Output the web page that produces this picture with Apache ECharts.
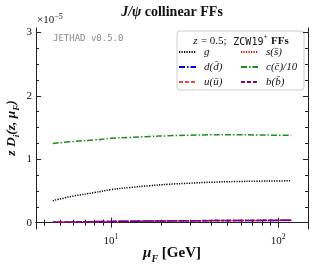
<!DOCTYPE html>
<html><head><meta charset="utf-8">
<script src="https://cdn.jsdelivr.net/npm/echarts@6/dist/echarts.min.js"></script>
<style>html,body{margin:0;padding:0;background:#fff}#c{width:314px;height:264px}</style>
</head><body><div id="c"></div>
<script>
const mu = [4.5, 6, 8, 10, 13, 17, 22, 30, 40, 55, 75, 100, 120];
const gVals = [0.347, 0.42, 0.475, 0.52, 0.555, 0.582, 0.605, 0.623, 0.638, 0.648, 0.654, 0.658, 0.66];
const sVals = [0.006, 0.010, 0.014, 0.017, 0.020, 0.023, 0.025, 0.028, 0.030, 0.032, 0.033, 0.034, 0.035];
const dVals = [0.008, 0.012, 0.016, 0.019, 0.022, 0.025, 0.027, 0.030, 0.032, 0.034, 0.035, 0.036, 0.037];
const cVals = [1.25, 1.28, 1.305, 1.33, 1.345, 1.36, 1.37, 1.38, 1.385, 1.386, 1.383, 1.379, 1.376];
const uVals = [0.008, 0.012, 0.016, 0.019, 0.022, 0.025, 0.027, 0.030, 0.032, 0.034, 0.035, 0.036, 0.037];
const bVals = [0.009, 0.013, 0.017, 0.020, 0.023, 0.026, 0.028, 0.031, 0.033, 0.035, 0.036, 0.037, 0.038];
const xMajor = [10, 100];
const xMinor = [4, 5, 6, 7, 8, 9, 20, 30, 40, 50, 60, 70, 80, 90];
const yMajor = [0, 1, 2, 3];
const yMinor = [0.25, 0.5, 0.75, 1.25, 1.5, 1.75, 2.25, 2.5, 2.75];

const serif = "'Liberation Serif', 'DejaVu Serif', serif";
const ax = '#222';
const xMin = 3.57, xMax = 151, yMin = -0.1, yMax = 3.07;

function xAx(pos, ticks, len, labels, line) {
  return {
    type: 'log', logBase: 10, position: pos, min: xMin, max: xMax,
    axisLine: {show: line, lineStyle: {color: ax, width: 1}},
    axisTick: {show: true, inside: true, length: len, customValues: ticks, lineStyle: {color: ax, width: 1}},
    axisLabel: labels ? {show: true, customValues: ticks, margin: 4,
      formatter: v => '{b|10}{s|' + Math.round(Math.log10(v)) + '}',
      rich: {b: {fontFamily: serif, fontSize: 11, color: '#111', lineHeight: 14, verticalAlign: 'bottom'},
             s: {fontFamily: serif, fontSize: 7.5, color: '#111', lineHeight: 14, verticalAlign: 'top'}}} : {show: false},
    splitLine: {show: false}
  };
}
function yAx(pos, ticks, len, labels, line) {
  return {
    type: 'value', position: pos, min: yMin, max: yMax,
    axisLine: {show: line, lineStyle: {color: ax, width: 1}},
    axisTick: {show: true, inside: true, length: len, customValues: ticks, lineStyle: {color: ax, width: 1}},
    axisLabel: labels ? {show: true, customValues: ticks, margin: 4, fontFamily: serif, fontSize: 11, color: '#111'} : {show: false},
    splitLine: {show: false}
  };
}
const pts = arr => mu.map((m, i) => [m, arr[i]]);
function ser(name, arr, color, type, width) {
  return {name, type: 'line', data: pts(arr), symbol: 'none', smooth: true, xAxisIndex: 0, yAxisIndex: 0,
    lineStyle: {color, type, width}, itemStyle: {color}, emphasis: {disabled: true}};
}
const legText = {fontFamily: serif, fontStyle: 'italic', fontSize: 11, color: '#111', lineHeight: 12, padding: [0, 0, 0, 3]};

const chart = echarts.init(document.getElementById('c'), null, {renderer: 'canvas'});
chart.setOption({
  animation: false,
  grid: {left: 36, right: 6, top: 28, bottom: 35},
  xAxis: [xAx('bottom', xMajor, 5, true, true), xAx('bottom', xMinor, 3, false, false),
          xAx('top', xMajor, 5, false, true), xAx('top', xMinor, 3, false, false)],
  yAxis: [yAx('left', yMajor, 5, true, true), yAx('left', yMinor, 3, false, false),
          yAx('right', yMajor, 5, false, true), yAx('right', yMinor, 3, false, false)],
  legend: [
    {orient: 'vertical', left: 178, top: 46, itemWidth: 17, itemHeight: 8, itemGap: 3, padding: 0,
     itemStyle: {color: 'transparent', borderColor: 'transparent', borderWidth: 0},
     data: ['g', 'd(d̄)', 'u(ū)'], textStyle: legText},
    {orient: 'vertical', left: 240, top: 46, itemWidth: 17, itemHeight: 8, itemGap: 3, padding: 0,
     itemStyle: {color: 'transparent', borderColor: 'transparent', borderWidth: 0},
     data: ['s(s̄)', 'c(c̄)/10', 'b(b̄)'], textStyle: legText}
  ],
  series: [
    ser('c(c̄)/10', cVals, '#1e8c1e', [6, 2, 1.5, 2], 1.5),
    ser('g', gVals, '#000000', [1.2, 1.3], 1.5),
    ser('s(s̄)', sVals, '#e00000', [1.2, 1.3], 1.5),
    ser('d(d̄)', dVals, '#0000dd', [6, 2, 1.5, 2], 1.5),
    ser('u(ū)', uVals, '#ff4040', [4, 2], 1.5),
    ser('b(b̄)', bVals, '#800080', [4, 2], 1.5)
  ],
  graphic: [
    {type: 'text', x: 172, y: 12, style: {
      text: '{i|J/ψ} {b|collinear FFs}', align: 'center', verticalAlign: 'middle',
      rich: {i: {fontFamily: serif, fontSize: 14, fontWeight: 'bold', fontStyle: 'italic', fill: '#111'},
             b: {fontFamily: serif, fontSize: 14, fontWeight: 'bold', fill: '#111'}}}},
    {type: 'text', x: 37, y: 13, style: {
      text: '{b|×10}{s|−5}',
      rich: {b: {fontFamily: serif, fontSize: 11, fill: '#111', lineHeight: 13, verticalAlign: 'bottom'},
             s: {fontFamily: serif, fontSize: 8, fill: '#111', lineHeight: 13, verticalAlign: 'top'}}}},
    {type: 'text', x: 53, y: 34, style: {text: 'JETHAD v0.5.0', fontFamily: "'DejaVu Sans Mono', monospace", fontSize: 9, fill: '#888'}},
    {type: 'text', x: 172, y: 255, style: {
      text: '{m|μ}{sub|F}{r| [GeV]}', align: 'center', verticalAlign: 'middle',
      rich: {m: {fontFamily: serif, fontSize: 15, fontStyle: 'italic', fontWeight: 'bold', fill: '#111', lineHeight: 18, verticalAlign: 'top'},
             sub: {fontFamily: serif, fontSize: 10, fontStyle: 'italic', fontWeight: 'bold', fill: '#111', lineHeight: 18, verticalAlign: 'bottom'},
             r: {fontFamily: serif, fontSize: 15, fontWeight: 'bold', fill: '#111', lineHeight: 18, verticalAlign: 'top'}}}},
    {type: 'text', x: 13, y: 128, rotation: Math.PI / 2, style: {
      text: '{m|z D}{sub|i}{m|(z, μ}{sub|F}{m|)}', align: 'center', verticalAlign: 'middle',
      rich: {m: {fontFamily: serif, fontSize: 13.5, fontStyle: 'italic', fontWeight: 'bold', fill: '#111', lineHeight: 17, verticalAlign: 'top'},
             sub: {fontFamily: serif, fontSize: 9, fontStyle: 'italic', fontWeight: 'bold', fill: '#111', lineHeight: 17, verticalAlign: 'bottom'}}}},
    {type: 'rect', shape: {x: 177, y: 31, width: 127, height: 59, r: 3}, style: {fill: 'rgba(255,255,255,0.8)', stroke: '#ccc', lineWidth: 1}, z: -1, zlevel: 0},
    {type: 'text', x: 241, y: 40, style: {
      text: '{i|z} {r|= 0.5;}  {t|ZCW19}{s|+} {b|FFs}', align: 'center', verticalAlign: 'middle',
      rich: {i: {fontFamily: serif, fontSize: 11, fontStyle: 'italic', fill: '#111', lineHeight: 14, verticalAlign: 'bottom'},
             r: {fontFamily: serif, fontSize: 11, fill: '#111', lineHeight: 14, verticalAlign: 'bottom'},
             t: {fontFamily: "'DejaVu Sans Mono', monospace", fontSize: 10, fill: '#111', lineHeight: 14, verticalAlign: 'bottom'},
             s: {fontFamily: serif, fontSize: 7.5, fill: '#111', lineHeight: 14, verticalAlign: 'top'},
             b: {fontFamily: serif, fontSize: 11, fontWeight: 'bold', fill: '#111', lineHeight: 14, verticalAlign: 'bottom'}}}}
  ]
});
</script></body></html>
